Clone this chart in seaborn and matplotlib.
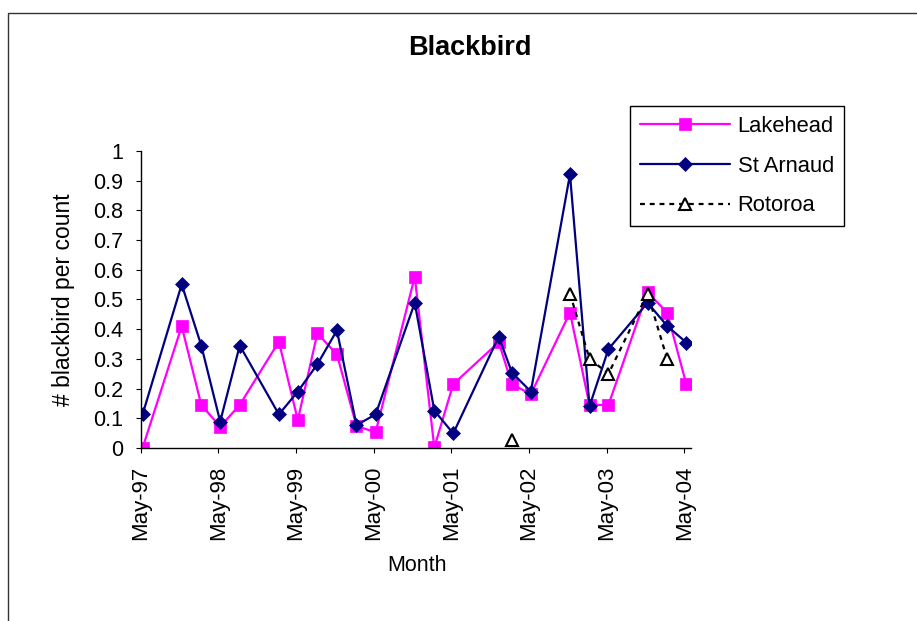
import numpy as np
import pandas as pd
import matplotlib
matplotlib.use("Agg")
import matplotlib.pyplot as plt
import matplotlib.dates as mdates
from matplotlib.ticker import FuncFormatter
import seaborn as sns

# survey months (one value per series per count)
months = ["1997-05", "1997-11", "1998-02", "1998-05", "1998-08", "1999-02",
          "1999-05", "1999-08", "1999-11", "2000-02", "2000-05", "2000-11",
          "2001-02", "2001-05", "2001-12", "2002-02", "2002-05", "2002-11",
          "2003-02", "2003-05", "2003-11", "2004-02", "2004-05"]
lakehead = [0.0, 0.41, 0.145, 0.072, 0.145, 0.358, 0.094, 0.386, 0.315,
            0.074, 0.053, 0.577, 0.002, 0.215, 0.356, 0.215, 0.181, 0.456,
            0.145, 0.145, 0.524, 0.456, 0.215]
st_arnaud = [0.113, 0.551, 0.345, 0.089, 0.345, 0.113, 0.19, 0.282, 0.396,
             0.077, 0.113, 0.489, 0.126, 0.049, 0.375, 0.254, 0.19, 0.921,
             0.141, 0.333, 0.489, 0.411, 0.355]
rotoroa = [np.nan] * 15 + [0.027, np.nan, 0.52, 0.30, 0.25, 0.52, 0.30, np.nan]

df = pd.DataFrame({
    "date": pd.to_datetime([m + "-10" for m in months]),
    "Lakehead": lakehead,
    "St Arnaud": st_arnaud,
    "Rotoroa": rotoroa,
})

sns.set_style("white")
plt.rcParams["font.family"] = ["Liberation Sans", "DejaVu Sans"]
plt.rcParams["text.color"] = "black"
plt.rcParams["axes.labelcolor"] = "black"
plt.rcParams["xtick.color"] = "black"
plt.rcParams["ytick.color"] = "black"

fig = plt.figure(figsize=(9.17, 6.21), dpi=100)
ax = fig.add_axes([0.1534, 0.2786, 0.6001, 0.4783])

sns.lineplot(data=df, x="date", y="Lakehead", ax=ax, color="#FF00FF", lw=1.6,
             marker="s", ms=8, mfc="#FF00FF", mec="#FF00FF", mew=0.5,
             label="Lakehead")
sns.lineplot(data=df, x="date", y="St Arnaud", ax=ax, color="#000080", lw=1.6,
             marker="D", ms=7.5, mfc="#000080", mec="#000080", mew=0.5,
             label="St Arnaud")

# Rotoroa has gaps, so draw each unbroken run on its own
rot = df[["date", "Rotoroa"]].copy()
rot["seg"] = rot["Rotoroa"].isna().cumsum()
rot = rot.dropna()
for i, (_, seg) in enumerate(rot.groupby("seg")):
    sns.lineplot(data=seg, x="date", y="Rotoroa", ax=ax, color="black",
                 lw=1.6, linestyle=(0, (2.2, 2.2)), marker="^", ms=9,
                 mfc="white", mec="black", mew=1.5,
                 label="Rotoroa" if i == 0 else None)

ax.set_ylim(0, 1)
ax.set_yticks(np.arange(0, 1.01, 0.1))
ax.yaxis.set_major_formatter(FuncFormatter(lambda v, p: f"{v:g}"))
ax.set_xlim(pd.Timestamp("1997-05-01"), pd.Timestamp("2004-06-01"))
ax.xaxis.set_major_locator(mdates.MonthLocator(bymonth=5, bymonthday=1))
ax.xaxis.set_major_formatter(mdates.DateFormatter("%b-%y"))
ax.tick_params(axis="x", labelrotation=90, labelsize=16)
ax.tick_params(axis="y", labelsize=15.5)
ax.tick_params(direction="out", length=3.6, width=0.8, color="black",
               labelcolor="black", bottom=True, left=True, pad=9)

sns.despine(ax=ax)
for s in ["left", "bottom"]:
    ax.spines[s].set_color("black")
    ax.spines[s].set_linewidth(1)

ax.set_xlabel("Month", fontsize=15.5)
ax.xaxis.set_label_coords(0.502, -0.36)
ax.set_ylabel("# blackbird per count", fontsize=16.5)
ax.yaxis.set_label_coords(-0.12, 0.5)

fig.text(0.5125, 0.922, "Blackbird", ha="center", va="center",
         fontsize=19.5, fontweight="bold")

leg = ax.legend(loc="upper left", bbox_to_anchor=(0.687, 0.829),
                bbox_transform=fig.transFigure, borderaxespad=0,
                fontsize=15.8, numpoints=1, handlelength=4.1,
                handletextpad=0.35, labelspacing=0.85, borderpad=0.45,
                frameon=True, fancybox=False, framealpha=1)
leg.get_frame().set_edgecolor("black")
leg.get_frame().set_linewidth(1)

# outer chart-area border
fig.add_artist(plt.Rectangle((8 / 917, -0.05), 1.1, 1.0291, transform=fig.transFigure,
                             fill=False, edgecolor="#333333", lw=1.0))

fig.savefig("out.png", dpi=100)
